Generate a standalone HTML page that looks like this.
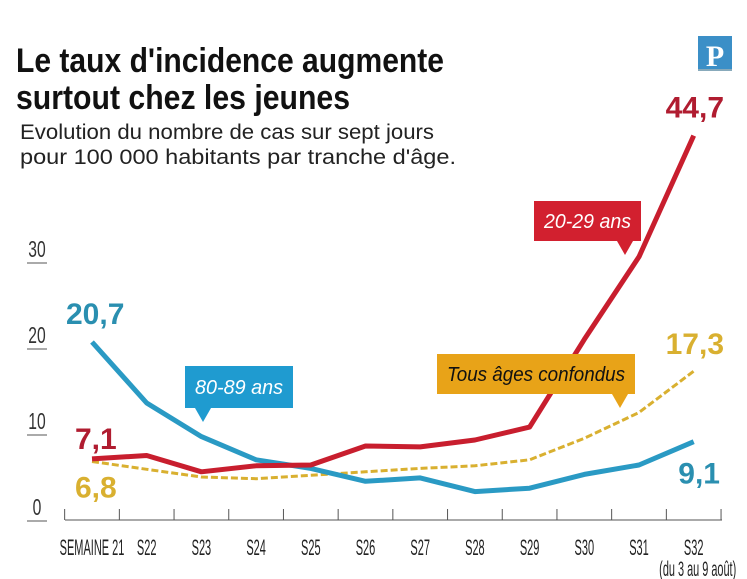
<!DOCTYPE html>
<html><head><meta charset="utf-8"><style>
html,body{margin:0;padding:0;background:#fff;}
svg{display:block;font-family:"Liberation Sans",sans-serif;}
</style></head><body>
<svg id="chart" width="747" height="579" viewBox="0 0 747 579">
<rect width="747" height="579" fill="#fff"/>
<text x="16" y="72" font-size="34" font-weight="bold" fill="#111" textLength="428" lengthAdjust="spacingAndGlyphs">Le taux d'incidence augmente</text>
<text x="16" y="109" font-size="34" font-weight="bold" fill="#111" textLength="334" lengthAdjust="spacingAndGlyphs">surtout chez les jeunes</text>
<text x="20" y="139" font-size="21" fill="#222" textLength="414" lengthAdjust="spacingAndGlyphs">Evolution du nombre de cas sur sept jours</text>
<text x="20" y="164" font-size="21" fill="#222" textLength="436" lengthAdjust="spacingAndGlyphs">pour 100 000 habitants par tranche d'âge.</text>
<g>
<rect x="698" y="36" width="34" height="34" fill="#3b8fc7"/>
<rect x="698" y="69" width="34" height="2" fill="#8ab"/>
<text x="715" y="66" font-size="30" font-family="Liberation Serif,serif" font-weight="bold" fill="#fff" text-anchor="middle">P</text>
</g>
<g id="axes"></g>
<g id="series"></g>
<g id="labels"></g>
</svg>
<script>
const categories=["SEMAINE 21","S22","S23","S24","S25","S26","S27","S28","S29","S30","S31","S32"];
const yTicks=[0,10,20,30];
const red2029=[7.1,7.5,5.6,6.3,6.4,8.6,8.5,9.3,10.8,21,30.6,44.7];
const blue8089=[20.7,13.6,9.7,7.0,6.0,4.5,4.9,3.3,3.7,5.3,6.4,9.1];
const yellowAll=[6.8,5.9,5.0,4.8,5.2,5.6,6.0,6.3,7.0,9.5,12.5,17.3];
const valueLabels=["20,7","7,1","6,8","44,7","17,3","9,1"];

const NS="http://www.w3.org/2000/svg";
const x0=92,step=54.7,y0=520,pxPerUnit=8.6;
const xs=i=>x0+i*step;
const ys=v=>y0-v*pxPerUnit;
function mk(tag,attrs,parent,txt){const e=document.createElementNS(NS,tag);for(const k in attrs)e.setAttribute(k,attrs[k]);if(txt!==undefined)e.textContent=txt;parent.appendChild(e);return e;}
const axes=document.getElementById('axes'),series=document.getElementById('series'),labels=document.getElementById('labels');

let ax=mk('line',{x1:65,x2:722,y1:y0,y2:y0,stroke:'#555','stroke-width':1},axes);


for(let i=0;i<=categories.length;i++){
  const t=mk('line',{x1:xs(i)-step/2,x2:xs(i)-step/2,y1:y0-11,y2:y0,stroke:'#555','stroke-width':1},axes);
  
  
}
categories.forEach((c,i)=>{
  const t=mk('text',{x:xs(i),y:555,'font-size':22,fill:'#222','text-anchor':'middle',transform:`translate(${xs(i)},0) scale(0.5,1) translate(${-xs(i)},0)`},axes,c);
  
  
});
let sub=mk('text',{x:xs(11)+4,y:576,'font-size':21,fill:'#222','text-anchor':'middle',transform:`translate(${xs(11)+4},0) scale(0.52,1) translate(${-xs(11)-4},0)`},axes,"(du 3 au 9 août)");


yTicks.forEach(v=>{
  const t=mk('text',{x:37,y:ys(v)-5,'font-size':23,fill:'#333','text-anchor':'middle',transform:`translate(37,0) scale(0.68,1) translate(-37,0)`},axes,String(v));
  
  
  const u=mk('line',{x1:27,x2:47,y1:ys(v)+1,y2:ys(v)+1,stroke:'#555','stroke-width':1},axes);
  
  
});

function pts(arr){return arr.map((v,i)=>xs(i).toFixed(1)+','+ys(v).toFixed(1)).join(' ');}
let yl=mk('polyline',{points:pts(yellowAll),fill:'none',stroke:'#d9b030','stroke-width':3,'stroke-dasharray':'7,3'},series);


let bl=mk('polyline',{points:pts(blue8089),fill:'none',stroke:'#2a9ac4','stroke-width':5,'stroke-linejoin':'round'},series);


let rl=mk('polyline',{points:pts(red2029),fill:'none',stroke:'#c81e2e','stroke-width':5,'stroke-linejoin':'round'},series);



function vlab(txt,x,y,col,anchor){const t=mk('text',{x:x,y:y,'font-size':30,'font-weight':'bold',fill:col,'text-anchor':anchor||'start'},labels,txt);return t;}
let l1=vlab(valueLabels[0],66,ys(blue8089[0])-18,'#2a8fb0');


let l2=vlab(valueLabels[1],75,ys(red2029[0])-10,'#b01c30');


let l3=vlab(valueLabels[2],75,ys(yellowAll[0])+36,'#d9b030');


let l4=vlab(valueLabels[3],724,ys(red2029[11])-18,'#b01c30','end');


let l5=vlab(valueLabels[4],724,ys(yellowAll[11])-17,'#d9b030','end');


let l6=vlab(valueLabels[5],720,ys(blue8089[11])+42,'#2a8fb0','end');



function callout(name,x,y,w,h,tipX,col,txtCol,txt){
  const g=mk('g',{},labels);
  
  
  mk('rect',{x:x,y:y,width:w,height:h,fill:col},g);
  mk('polygon',{points:`${tipX-8},${y+h} ${tipX+8},${y+h} ${tipX},${y+h+14}`,fill:col},g);
  mk('text',{x:x+w/2,y:y+h/2+7,'font-size':20,'font-style':'italic',fill:txtCol,'text-anchor':'middle',textLength:w-20,lengthAdjust:'spacingAndGlyphs'},g,txt);
}
callout('callout-80-89',185,366,108,42,203,'#1f9bd0','#fff','80-89 ans');
callout('callout-20-29',534,201,107,40,625,'#d2202f','#fff','20-29 ans');
callout('callout-all-ages',437,354,198,40,620,'#e8a318','#111','Tous âges confondus');
</script>
</body></html>
